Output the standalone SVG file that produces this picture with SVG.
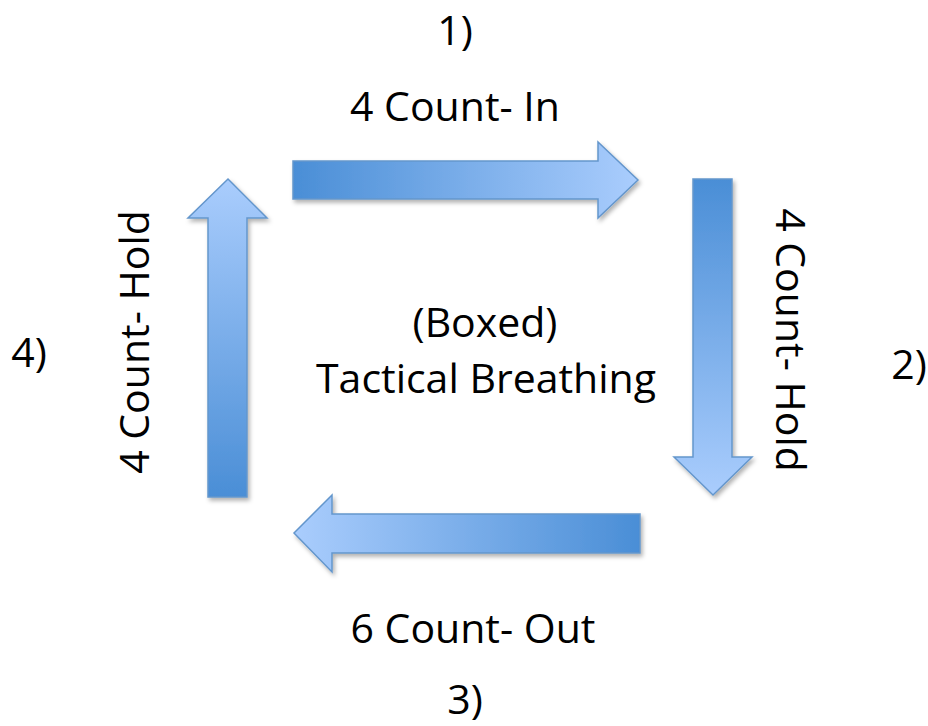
<svg xmlns="http://www.w3.org/2000/svg" width="928" height="726" viewBox="0 0 928 726">
  <defs>
    <linearGradient id="gRight" x1="0" y1="0" x2="1" y2="0">
      <stop offset="0" stop-color="#4a8ed6"/>
      <stop offset="1" stop-color="#aacdfd"/>
    </linearGradient>
    <linearGradient id="gDown" x1="0" y1="0" x2="0" y2="1">
      <stop offset="0" stop-color="#4a8ed6"/>
      <stop offset="1" stop-color="#aacdfd"/>
    </linearGradient>
    <linearGradient id="gLeft" x1="1" y1="0" x2="0" y2="0">
      <stop offset="0" stop-color="#4a8ed6"/>
      <stop offset="1" stop-color="#aacdfd"/>
    </linearGradient>
    <linearGradient id="gUp" x1="0" y1="1" x2="0" y2="0">
      <stop offset="0" stop-color="#4a8ed6"/>
      <stop offset="1" stop-color="#aacdfd"/>
    </linearGradient>
    <filter id="shadow" x="-10%" y="-10%" width="130%" height="130%">
      <feDropShadow dx="2" dy="3" stdDeviation="2" flood-color="#000" flood-opacity="0.3"/>
    </filter>
  </defs>
  <style>
    .arrow { stroke: #6496cc; stroke-width: 1.5; stroke-linejoin: miter; filter: url(#shadow); }
    .label { font-family: "Open Sans", "Liberation Sans", sans-serif; font-size: 41px; fill: #000; text-anchor: middle; }
  </style>

  <rect width="928" height="726" fill="#fff"/>

  <!-- connectors: the four block arrows of the breathing cycle -->
  <g id="connectors">
    <path id="arrow-in" class="arrow" fill="url(#gRight)"
          d="M293,161 H598 V142 L638,180 L598,218 V199 H293 Z"/>
    <path id="arrow-hold-right" class="arrow" fill="url(#gDown)"
          d="M693,179 H732 V457 H752 L713,495 L674,457 H693 Z"/>
    <path id="arrow-out" class="arrow" fill="url(#gLeft)"
          d="M640,514 V553 H332 V572 L294,533 L332,495 V514 Z"/>
    <path id="arrow-hold-left" class="arrow" fill="url(#gUp)"
          d="M208,497 V218 H188 L228,179 L267,218 H247 V497 Z"/>
  </g>

  <!-- step 1: inhale -->
  <g id="step1">
    <text class="label" x="455" y="45">1)</text>
    <text class="label" x="455" y="121">4 Count- In</text>
  </g>

  <!-- step 2: hold (right side) -->
  <g id="step2">
    <text class="label" x="909" y="379">2)</text>
    <text class="label" transform="translate(776,340) rotate(90)">4 Count- Hold</text>
  </g>

  <!-- step 3: exhale -->
  <g id="step3">
    <text class="label" x="473" y="643">6 Count- Out</text>
    <text class="label" x="465" y="714">3)</text>
  </g>

  <!-- step 4: hold (left side) -->
  <g id="step4">
    <text class="label" x="29" y="367">4)</text>
    <text class="label" transform="translate(149,342) rotate(-90)">4 Count- Hold</text>
  </g>

  <!-- centre title -->
  <g id="title">
    <text class="label" x="485" y="337">(Boxed)</text>
    <text class="label" x="486" y="393">Tactical Breathing</text>
  </g>
</svg>
